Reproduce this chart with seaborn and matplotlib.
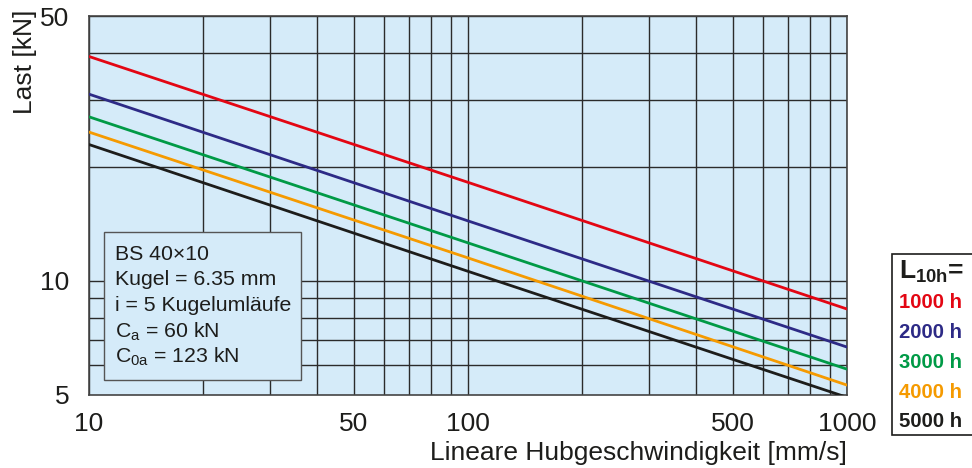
import matplotlib
matplotlib.use("Agg")
import matplotlib.pyplot as plt
import seaborn as sns
import pandas as pd
from matplotlib.patches import Rectangle

# Data (load in kN vs. linear speed in mm/s)
speed = [10, 100, 1000]
load_1000h = [39.1, 18.2, 8.43]
load_2000h = [31.1, 14.4, 6.69]
load_3000h = [27.1, 12.6, 5.85]
load_4000h = [24.7, 11.5, 5.31]
load_5000h = [22.9, 10.6, 4.93]
series_labels = ["1000 h", "2000 h", "3000 h", "4000 h", "5000 h"]
series_colors = ["#e30613", "#2d2a86", "#009a46", "#f59a00", "#1d1d1b"]
x_ticks = [10, 50, 100, 500, 1000]
y_ticks = [5, 10, 50]
info_lines = ["BS 40×10", "Kugel = 6.35 mm", "i = 5 Kugelumläufe",
              r"C$_\mathregular{a}$ = 60 kN", r"C$_\mathregular{0a}$ = 123 kN"]

rows = []
for lab, vals in zip(series_labels,
                     [load_1000h, load_2000h, load_3000h, load_4000h, load_5000h]):
    for s, v in zip(speed, vals):
        rows.append({"speed": s, "load": v, "L10h": lab})
df = pd.DataFrame(rows)

sns.set_style("white")
plt.rcParams["font.family"] = ["Liberation Sans", "DejaVu Sans"]
plt.rcParams["mathtext.fontset"] = "custom"
plt.rcParams["mathtext.rm"] = "Liberation Sans"
plt.rcParams["mathtext.bf"] = "Liberation Sans:bold"

fig = plt.figure(figsize=(9.72, 4.68), dpi=100)
ax = fig.add_axes([89 / 972, 1 - 395 / 468, (847 - 89) / 972, (395 - 16) / 468])
ax.set_facecolor("#d5ebf9")

sns.lineplot(data=df, x="speed", y="load", hue="L10h", palette=series_colors,
             hue_order=series_labels, linewidth=2.0, legend=False, ax=ax, zorder=3)

ax.set_xscale("log")
ax.set_yscale("log")
ax.set_xlim(10, 1000)
ax.set_ylim(5, 50)

# grid lines
for v in list(range(10, 100, 10)) + list(range(100, 1000, 100)) + [1000]:
    ax.axvline(v, color="#2b2b2b", lw=1.0, zorder=1)
for v in [6, 7, 8, 9, 10, 20, 30, 40, 50]:
    ax.axhline(v, color="#2b2b2b", lw=1.0, zorder=1)

ax.set_xticks(x_ticks)
ax.set_xticklabels([str(t) for t in x_ticks])
ax.set_yticks(y_ticks)
ax.set_yticklabels([str(t) for t in y_ticks])
ax.minorticks_off()
ax.tick_params(axis="both", length=0, labelsize=19, colors="#1d1d1b")
ax.tick_params(axis="x", pad=12)
ax.tick_params(axis="y", pad=14)
for sp in ax.spines.values():
    sp.set_color("#444444")
    sp.set_linewidth(1.2)

ax.set_xlabel("Lineare Hubgeschwindigkeit [mm/s]", fontsize=19, loc="right",
              labelpad=4, color="#1d1d1b")
ax.set_ylabel("Last [kN]", fontsize=19, loc="top", color="#1d1d1b")
ax.yaxis.set_label_coords(-0.068, 1.016)

# info box
box = Rectangle((104 / 972, 1 - 380 / 468), (301 - 104) / 972, (380 - 232) / 468,
                transform=fig.transFigure, facecolor="#d5ebf9", edgecolor="#555555",
                lw=1.0, zorder=5)
fig.patches.append(box)
for i, t in enumerate(info_lines):
    fig.text(115 / 972, 1 - (254 + i * 25.8) / 468, t, fontsize=15.3,
             va="center", ha="left", color="#1d1d1b", zorder=6)

# legend box
lbox = Rectangle((892 / 972, 1 - 435 / 468), 90 / 972, (435 - 254) / 468,
                 transform=fig.transFigure, facecolor="white", edgecolor="#1d1d1b",
                 lw=1.2, zorder=5)
fig.patches.append(lbox)
fig.text(899 / 972, 1 - 272 / 468, r"L$_\mathbf{10h}$=", fontsize=19,
         fontweight="bold", va="center", ha="left", color="#1d1d1b", zorder=6)
for i, (lab, col) in enumerate(zip(series_labels, series_colors)):
    fig.text(899 / 972, 1 - (303 + i * 29.7) / 468, lab, fontsize=14.6,
             fontweight="bold", va="center", ha="left", color=col, zorder=6)

fig.savefig("out.png", dpi=100)
